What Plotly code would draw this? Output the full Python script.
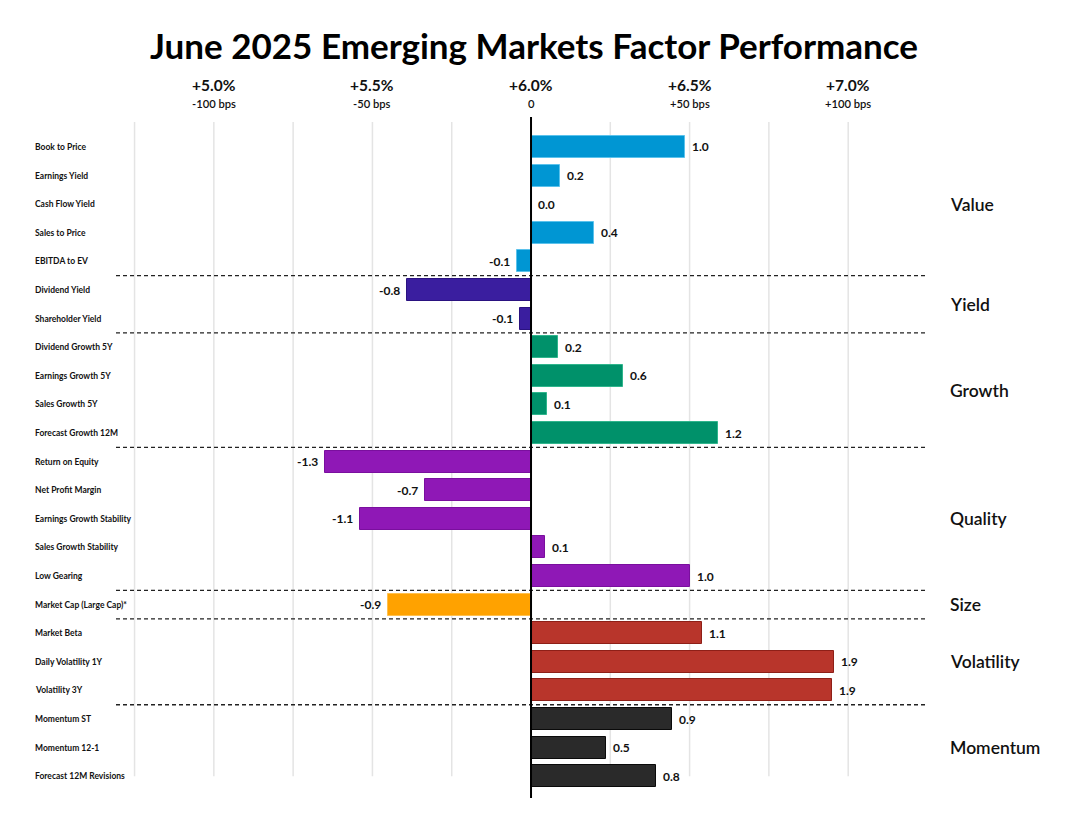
import plotly.graph_objects as go

# ---------------- data ----------------
factors = [
    "Book to Price", "Earnings Yield", "Cash Flow Yield", "Sales to Price", "EBITDA to EV",
    "Dividend Yield", "Shareholder Yield",
    "Dividend Growth 5Y", "Earnings Growth 5Y", "Sales Growth 5Y", "Forecast Growth 12M",
    "Return on Equity", "Net Profit Margin", "Earnings Growth Stability", "Sales Growth Stability", "Low Gearing",
    "Market Cap (Large Cap)*",
    "Market Beta", "Daily Volatility 1Y", "Volatility 3Y",
    "Momentum ST", "Momentum 12-1", "Forecast 12M Revisions",
]
groups = (["Value"] * 5 + ["Yield"] * 2 + ["Growth"] * 4 + ["Quality"] * 5
          + ["Size"] + ["Volatility"] * 3 + ["Momentum"] * 3)
values = [0.97, 0.18, 0.0, 0.40, -0.09,
          -0.78, -0.07,
          0.17, 0.58, 0.10, 1.18,
          -1.30, -0.67, -1.08, 0.09, 1.00,
          -0.90,
          1.08, 1.91, 1.90,
          0.89, 0.47, 0.79]
group_order = ["Value", "Yield", "Growth", "Quality", "Size", "Volatility", "Momentum"]
group_colors = ["#0096D3", "#3A1E9F", "#00916A", "#8F18B6", "#FFA200", "#B8352B", "#2A2A2A"]
group_lines = ["#5BC2EC", "#2A1280", "#2FB58C", "#7A0F9E", "#FFC04D", "#8E1F17", "#0A0A0A"]
tick_vals = [-2, -1, 0, 1, 2]
tick_pct = ["+5.0%", "+5.5%", "+6.0%", "+6.5%", "+7.0%"]
tick_bps = ["-100 bps", "-50 bps", "0", "+50 bps", "+100 bps"]
grid_vals = [-2.5, -2.0, -1.5, -1.0, -0.5, 0.5, 1.0, 1.5, 2.0]

FONT = "Lato"
rows = list(range(len(factors)))
OFF = 8  # page body margin of the browser

fig = go.Figure()
for g, c, lc in zip(group_order, group_colors, group_lines):
    idx = [i for i in rows if groups[i] == g]
    fig.add_trace(go.Bar(
        x=[values[i] for i in idx], y=idx, orientation="h",
        width=0.77, marker=dict(color=c, line=dict(color=lc, width=1)),
        hoverinfo="skip", showlegend=False,
    ))

shapes = []
# gridlines
for gv in grid_vals:
    shapes.append(dict(type="line", xref="x", yref="y", x0=gv, x1=gv, y0=-0.87, y1=22.0,
                       line=dict(color="#E4E4E4", width=1.5), layer="below"))
# group separators
for i in range(1, len(groups)):
    if groups[i] != groups[i - 1]:
        shapes.append(dict(type="line", xref="paper", yref="y", x0=0, x1=1, y0=i - 0.5, y1=i - 0.5,
                           line=dict(color="#222222", width=1.3, dash="4px,3px"), layer="above"))
# zero line
shapes.append(dict(type="line", xref="x", yref="paper", x0=0, x1=0, y0=0, y1=1,
                   line=dict(color="#000000", width=2), layer="above"))

ann = []
# category labels
for i, f in enumerate(factors):
    ann.append(dict(text=f"<b>{f}</b>", xref="paper", x=-0.1023, xanchor="left",
                    yref="y", y=i, yanchor="middle", showarrow=False,
                    font=dict(family=FONT, size=8.5, color="#111111")))
# value labels
for i, v in enumerate(values):
    ann.append(dict(text=f"{v:.1f}", xref="x", x=v, yref="y", y=i, yanchor="middle",
                    xanchor="left" if v >= 0 else "right", xshift=5 if v >= 0 else -5,
                    showarrow=False, font=dict(family=FONT, size=12, color="#111111", weight=700)))
# group labels
for g in group_order:
    idx = [i for i in rows if groups[i] == g]
    ann.append(dict(text=g, xref="paper", x=1.026, xanchor="left", yref="y",
                    y=sum(idx) / len(idx), yanchor="middle", showarrow=False,
                    font=dict(family=FONT, size=17.5, color="#111111", weight=600)))
# top tick labels
for tv, tp, tb in zip(tick_vals, tick_pct, tick_bps):
    ann.append(dict(text=tp, xref="x", x=tv, yref="paper", y=1.0465, yanchor="middle",
                    xanchor="center", showarrow=False,
                    font=dict(family=FONT, size=15.5, color="#111111", weight=700)))
    ann.append(dict(text=tb, xref="x", x=tv, yref="paper", y=1.020, yanchor="middle",
                    xanchor="center", showarrow=False,
                    font=dict(family=FONT, size=11.2, color="#111111", weight=600)))

fig.update_layout(
    width=1069, height=830,
    margin=dict(l=116 - OFF, r=142 + OFF, t=117 - OFF, b=32 + OFF),
    paper_bgcolor="white", plot_bgcolor="white",
    title=dict(text="<b>June 2025 Emerging Markets Factor Performance</b>",
               x=(534 - OFF) / 1069, xref="container", xanchor="center",
               y=1 - (47 - OFF) / 830, yref="container", yanchor="middle",
               font=dict(family=FONT, size=35, color="#000000")),
    xaxis=dict(range=[-2.617, 2.497], showgrid=False, zeroline=False,
               showticklabels=False, showline=False, fixedrange=True),
    yaxis=dict(range=[22.76, -1.048], showgrid=False, zeroline=False,
               showticklabels=False, showline=False, fixedrange=True),
    shapes=shapes, annotations=ann, bargap=0,
)

fig.write_html("out.html")
